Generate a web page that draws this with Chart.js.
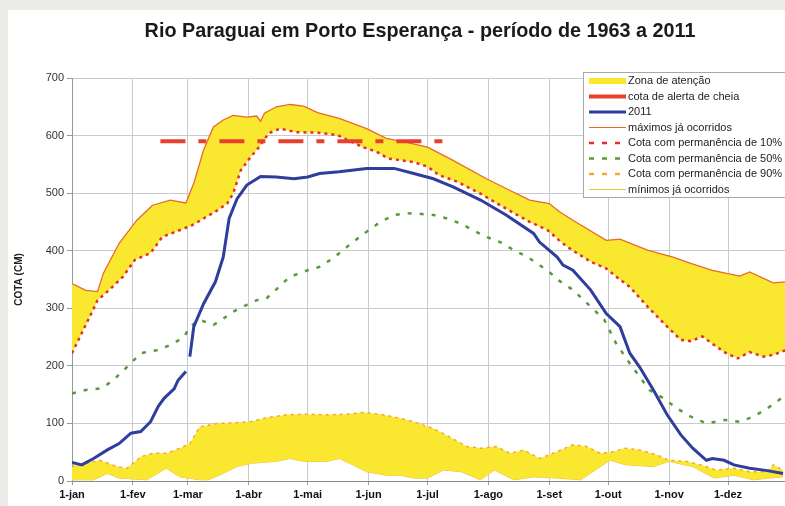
<!DOCTYPE html>
<html>
<head>
<meta charset="utf-8">
<script src="https://cdn.jsdelivr.net/npm/chart.js@4.4.0/dist/chart.umd.min.js"></script>
<style>
html, body { margin: 0; padding: 0; background: #ecece8; overflow: hidden; }
#painel { position: absolute; left: 8px; top: 10px; width: 777px; height: 496px; background: #fff; }
#grafico { position: absolute; left: 0; top: 0; }
</style>
</head>
<body>
<div id="painel"></div>
<canvas id="grafico" width="785" height="506"></canvas>
<script>
// Eixo x: dia do ano (0 = 1-jan)
const diasMes = [0, 31, 59, 90, 120, 151, 181, 212, 243, 273, 304, 334];
const rotulosMes = ['1-jan', '1-fev', '1-mar', '1-abr', '1-mai', '1-jun', '1-jul', '1-ago', '1-set', '1-out', '1-nov', '1-dez'];

// Máximos já ocorridos
const maxDias = [0, 7, 13, 16, 24, 33, 41, 50, 58, 62, 67, 72, 77, 82, 89, 94, 96, 98, 104, 111, 118, 125, 136, 150, 160, 172, 181, 194, 211, 221, 233, 243, 248, 255, 272, 279, 293, 306, 315, 326, 340, 345, 357, 363];
const maxValores = [343, 331, 329, 361, 413, 453, 479, 488, 483, 517, 575, 615, 627, 635, 632, 634, 625, 639, 650, 654, 651, 640, 630, 612, 595, 587, 580, 557, 525, 508, 488, 482, 468, 453, 418, 420, 401, 389, 378, 366, 356, 363, 344, 346];

// Cota com permanência de 10%
const p10Dias = [0, 4, 9, 13, 19, 26, 32, 40, 46, 55, 61, 67, 74, 79, 82, 86, 91, 96, 100, 106, 114, 125, 135, 148, 155, 161, 174, 181, 187, 196, 208, 221, 233, 242, 248, 252, 264, 272, 277, 284, 293, 303, 310, 315, 321, 327, 333, 339, 345, 352, 357, 363];
const p10Valores = [222, 250, 285, 314, 332, 355, 384, 396, 424, 436, 444, 456, 470, 482, 499, 540, 563, 583, 604, 612, 606, 605, 601, 580, 572, 560, 554, 546, 531, 520, 499, 473, 450, 436, 418, 407, 381, 369, 355, 337, 303, 268, 245, 243, 251, 236, 222, 213, 224, 216, 219, 227];

// Cota com permanência de 50%
const p50Dias = [0, 7, 15, 21, 28, 35, 43, 50, 57, 60, 65, 72, 77, 82, 89, 94, 99, 111, 120, 126, 133, 143, 150, 157, 164, 170, 177, 184, 191, 198, 204, 211, 218, 225, 232, 238, 243, 248, 255, 264, 271, 277, 284, 294, 301, 308, 315, 323, 332, 340, 347, 354, 362];
const p50Valores = [152, 158, 161, 175, 198, 222, 227, 236, 250, 268, 280, 271, 282, 294, 306, 314, 317, 355, 366, 372, 387, 415, 433, 450, 462, 465, 464, 462, 456, 447, 436, 424, 415, 401, 389, 375, 363, 348, 332, 303, 280, 239, 204, 158, 144, 126, 112, 100, 106, 103, 112, 126, 146];

// Cota com permanência de 90%
const p90Dias = [0, 7, 14, 23, 28, 35, 41, 48, 55, 60, 65, 74, 82, 91, 99, 109, 119, 130, 140, 148, 157, 167, 174, 184, 192, 201, 209, 216, 223, 230, 238, 247, 255, 262, 269, 276, 281, 289, 298, 304, 313, 320, 328, 337, 345, 354, 357, 362];
const p90Valores = [25, 31, 36, 25, 22, 42, 48, 48, 57, 65, 94, 100, 101, 103, 110, 115, 116, 115, 116, 119, 116, 109, 103, 91, 77, 60, 57, 60, 48, 54, 39, 51, 63, 60, 48, 51, 57, 54, 45, 36, 34, 28, 19, 22, 16, 16, 28, 19];

// Mínimos já ocorridos
const minDias = [0, 11, 18, 24, 38, 48, 55, 65, 69, 75, 84, 92, 104, 111, 118, 130, 136, 143, 150, 160, 167, 174, 181, 189, 198, 208, 215, 225, 235, 247, 259, 269, 274, 282, 296, 304, 316, 327, 337, 347, 355, 362];
const minValores = [2, 2, 13, 5, 2, 22, 7, 2, 2, 10, 25, 31, 34, 39, 34, 34, 39, 28, 16, 10, 10, 5, 5, 19, 16, 2, 19, 2, 7, 5, 2, 25, 36, 28, 25, 34, 25, 5, 10, 2, 5, 7];

// 2011 (com interrupção no fim de fevereiro)
const dias2011 = [0, 5, 11, 18, 24, 30, 35, 40, 44, 47, 52, 54, 58, 59, 60, 62, 67, 73, 77, 80, 84, 89, 96, 104, 113, 120, 126, 136, 150, 164, 174, 184, 194, 208, 221, 235, 238, 247, 250, 255, 264, 272, 279, 284, 289, 296, 303, 310, 316, 323, 326, 332, 337, 345, 354, 362];
const valores2011 = [32, 28, 39, 54, 65, 83, 86, 103, 130, 144, 160, 175, 190, null, 216, 268, 308, 346, 389, 456, 490, 514, 529, 528, 525, 528, 534, 537, 543, 543, 534, 525, 511, 488, 462, 430, 415, 389, 375, 366, 332, 291, 268, 222, 198, 158, 115, 80, 57, 36, 39, 36, 28, 22, 18, 13];

// Cota de alerta de cheia
const alertaDias = [45, 191];
const alertaValores = [590, 590];

const amarelo = '#f9e730';
const fonte = '"Liberation Sans", Arial, sans-serif';

function pontos(dias, valores) {
    return dias.map((d, i) => ({ x: d, y: valores[i] }));
}

// Título desenhado sobre o gráfico
const tituloPlugin = {
    id: 'titulo',
    afterDraw(chart) {
        const ctx = chart.ctx;
        ctx.save();
        ctx.font = 'bold 19.8px ' + fonte;
        ctx.fillStyle = '#1a1a1a';
        ctx.textAlign = 'center';
        ctx.textBaseline = 'middle';
        ctx.fillText('Rio Paraguai em Porto Esperança - período de 1963 a 2011', 420, 32);
        ctx.restore();
    }
};

// Legenda no canto superior direito
const legendaPlugin = {
    id: 'legenda',
    afterDraw(chart) {
        const ctx = chart.ctx;
        const itens = [
            { texto: 'Zona de atenção', cor: amarelo, largura: 6 },
            { texto: 'cota de alerta de cheia', cor: '#e8402c', largura: 4 },
            { texto: '2011', cor: '#2f3d9c', largura: 3 },
            { texto: 'máximos já ocorridos', cor: '#e86a2c', largura: 1.2 },
            { texto: 'Cota com permanência de 10%', cor: '#e0322a', largura: 2.5, traco: [5, 8] },
            { texto: 'Cota com permanência de 50%', cor: '#5a9a3c', largura: 2.5, traco: [5, 8] },
            { texto: 'Cota com permanência de 90%', cor: '#f2aa30', largura: 2.5, traco: [5, 8] },
            { texto: 'mínimos já ocorridos', cor: '#f0c040', largura: 1.2 }
        ];
        ctx.save();
        ctx.fillStyle = '#fff';
        ctx.strokeStyle = '#a8a8a8';
        ctx.lineWidth = 1;
        ctx.fillRect(583.5, 72.5, 210, 125);
        ctx.strokeRect(583.5, 72.5, 210, 125);
        ctx.font = '11px ' + fonte;
        ctx.textBaseline = 'middle';
        itens.forEach((item, i) => {
            const y = 81 + i * 15.5;
            ctx.beginPath();
            ctx.setLineDash(item.traco || []);
            ctx.strokeStyle = item.cor;
            ctx.lineWidth = item.largura;
            ctx.moveTo(589, y);
            ctx.lineTo(626, y);
            ctx.stroke();
            ctx.setLineDash([]);
            ctx.fillStyle = '#222';
            ctx.fillText(item.texto, 628, y);
        });
        ctx.restore();
    }
};

const ctx = document.getElementById('grafico').getContext('2d');
const chart = new Chart(ctx, {
    type: 'line',
    data: {
        datasets: [
            {
                label: 'cota de alerta de cheia',
                data: pontos(alertaDias, alertaValores),
                borderColor: '#e8402c',
                borderWidth: 4,
                borderDash: [25, 13, 8, 13],
                order: 1
            },
            {
                label: '2011',
                data: pontos(dias2011, valores2011),
                borderColor: '#2f3d9c',
                borderWidth: 3,
                spanGaps: false,
                order: 2
            },
            {
                label: 'Cota com permanência de 50%',
                data: pontos(p50Dias, p50Valores),
                borderColor: '#5a9a3c',
                borderWidth: 2.5,
                borderDash: [4, 8],
                order: 3
            },
            {
                label: 'máximos já ocorridos',
                data: pontos(maxDias, maxValores),
                borderColor: '#e86a2c',
                borderWidth: 1.3,
                backgroundColor: amarelo,
                fill: 4,
                order: 5
            },
            {
                label: 'Cota com permanência de 10%',
                data: pontos(p10Dias, p10Valores),
                borderColor: '#e0322a',
                borderWidth: 2.5,
                borderDash: [3, 4],
                order: 4
            },
            {
                label: 'Cota com permanência de 90%',
                data: pontos(p90Dias, p90Valores),
                borderColor: '#f2aa30',
                borderWidth: 1.5,
                borderDash: [3, 4],
                backgroundColor: amarelo,
                fill: 6,
                order: 5
            },
            {
                label: 'mínimos já ocorridos',
                data: pontos(minDias, minValores),
                borderColor: '#f0c040',
                borderWidth: 1,
                order: 6
            }
        ]
    },
    options: {
        responsive: false,
        animation: false,
        layout: { padding: { top: 78, left: 8, right: 0, bottom: 0 } },
        elements: { point: { radius: 0 }, line: { tension: 0 } },
        plugins: {
            legend: { display: false },
            title: { display: false },
            tooltip: { enabled: false }
        },
        scales: {
            x: {
                type: 'linear',
                min: 0,
                max: 363,
                afterBuildTicks: (scale) => {
                    scale.ticks = diasMes.map(v => ({ value: v }));
                },
                afterFit: (scale) => { scale.height = 25; },
                ticks: {
                    callback: (v) => rotulosMes[diasMes.indexOf(v)],
                    font: { family: fonte, size: 11, weight: 'bold' },
                    color: '#111',
                    padding: 3,
                    maxRotation: 0,
                    autoSkip: false
                },
                grid: { color: '#c8cacc', tickLength: 4, tickColor: '#999' },
                border: { color: '#8a8a8a' }
            },
            y: {
                min: 0,
                max: 700,
                afterFit: (scale) => { scale.width = 64; },
                ticks: {
                    stepSize: 100,
                    font: { family: fonte, size: 11 },
                    color: '#333',
                    padding: 3
                },
                title: {
                    display: true,
                    text: 'COTA (CM)',
                    font: { family: fonte, size: 10, weight: 'bold' },
                    color: '#222',
                    padding: { top: 5, bottom: 4 }
                },
                grid: { color: '#c8cacc', tickLength: 5, tickColor: '#999' },
                border: { color: '#999' }
            }
        }
    },
    plugins: [tituloPlugin, legendaPlugin]
});
</script>
</body>
</html>
